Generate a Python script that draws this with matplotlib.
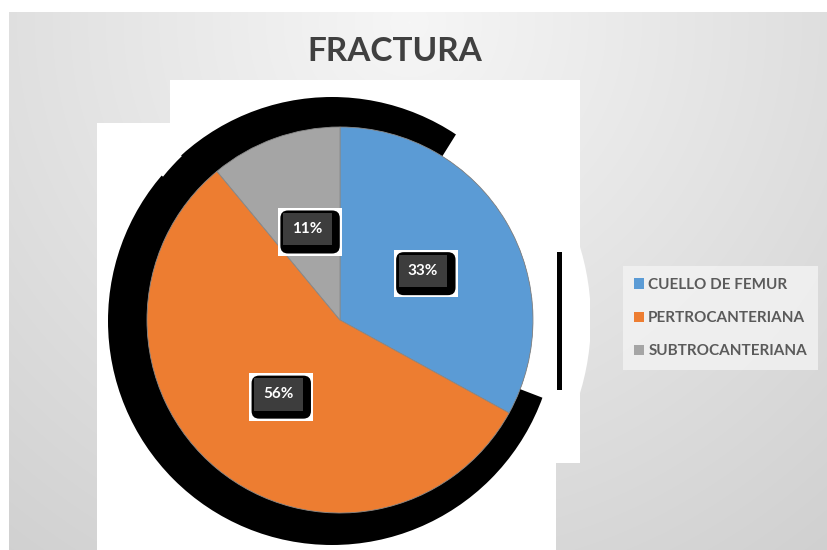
import numpy as np
import matplotlib
matplotlib.use("Agg")
import matplotlib.pyplot as plt
from matplotlib.patches import Rectangle, Circle, Wedge

categories = ["CUELLO DE FEMUR", "PERTROCANTERIANA", "SUBTROCANTERIANA"]
values = [33, 56, 11]
colors = ["#5B9BD5", "#ED7D31", "#A5A5A5"]
title = "FRACTURA"

W, H = 827, 550
fig = plt.figure(figsize=(W / 100, H / 100), dpi=100, facecolor="white")

# background gradient panel
bg = fig.add_axes([9 / W, 0, (W - 9) / W, (H - 12) / H])
bg.set_axis_off()
yy, xx = np.mgrid[0:538, 0:818]
d = np.hypot(xx - 400, yy - 10) / 680.0
v = 0.965 - 0.15 * np.clip(d, 0, 1.2)
bg.imshow(np.dstack([v, v, v]), aspect="auto", extent=[0, 1, 0, 1], origin="upper")
bg.set_xlim(0, 1); bg.set_ylim(0, 1)

# white artefact rectangles
fig.patches.append(Rectangle((97 / W, 0), 459 / W, 427 / H, transform=fig.transFigure,
                             fc="white", ec="none", zorder=1))
fig.patches.append(Rectangle((170 / W, 87 / H), 410 / W, 383 / H, transform=fig.transFigure,
                             fc="white", ec="none", zorder=1))

# pie axes: center (340,320) px, radius 193 px
R = 193.0
half = 250.0
cx, cy = 340.0, H - 320.0
ax = fig.add_axes([(cx - half) / W, (cy - half) / H, 2 * half / W, 2 * half / H], zorder=3)
ax.set_axis_off()
ax.patch.set_alpha(0)

# black shadow
ax.add_patch(Circle((-8 / R, -1 / R), 224 / R, fc="black", ec="none", zorder=0))
ax.add_patch(Wedge((0, 0), 1.3, -21, 58, width=0.3, fc="white", ec="none", zorder=0.5))
ax.add_patch(Wedge((0, 0), 1.3, 134, 141, width=0.12, fc="white", ec="none", zorder=0.5))
# thin black artefact strip at right
ax.add_patch(Rectangle((557 / W, 1 - 390 / H), 5 / W, 138 / H, transform=fig.transFigure,
                       fc="black", ec="none", zorder=0.6))

wedges, texts, autotexts = ax.pie(
    values, colors=colors, startangle=90, counterclock=False,
    autopct=lambda p: f"{p:.0f}%", pctdistance=0.5, radius=1.0,
    wedgeprops=dict(edgecolor="#8a8a8a", linewidth=0.6),
    textprops=dict(color="white", fontsize=11, family="Lato", fontweight="bold"))
ax.set_xlim(-half / R, half / R)
ax.set_ylim(-half / R, half / R)

for t in autotexts:
    x, y = t.get_position()
    s = t.get_text()
    ax.annotate(s, (x, y), xytext=(2, -2), textcoords="offset points", ha="center", va="center",
                color="none", fontsize=11, family="Lato", fontweight="bold",
                bbox=dict(boxstyle="square,pad=1.1", fc="white", ec="none"), zorder=5)
    ax.annotate(s, (x, y), xytext=(2, -2), textcoords="offset points", ha="center", va="center",
                color="none", fontsize=11, family="Lato", fontweight="bold",
                bbox=dict(boxstyle="round,pad=0.95,rounding_size=0.5", fc="black", ec="none"), zorder=6)
    t.set_bbox(dict(boxstyle="square,pad=0.6", fc="#3d3d3d", ec="none"))
    t.set_zorder(7)
    t.set_ha("center"); t.set_va("center")

fig.text(395 / W, 1 - 52 / H, title, ha="center", va="center", fontsize=24,
         fontweight="bold", family="Lato", color="#404040", zorder=5)

leg = fig.legend(wedges, categories, loc="center left", bbox_to_anchor=(623 / W, 1 - 318 / H),
                 frameon=True, handlelength=0.65, handleheight=0.65,
                 handletextpad=0.25, labelspacing=1.25, borderpad=0.75, borderaxespad=0,
                 fancybox=False, prop=dict(family="Lato", size=11, weight="bold"))
leg.get_frame().set_facecolor("#f3f3f3")
leg.get_frame().set_edgecolor("none")
for h in leg.legend_handles:
    h.set_edgecolor("none")
for txt in leg.get_texts():
    txt.set_color("#5a5a5a")

fig.savefig("out.png", dpi=100, facecolor="white")
